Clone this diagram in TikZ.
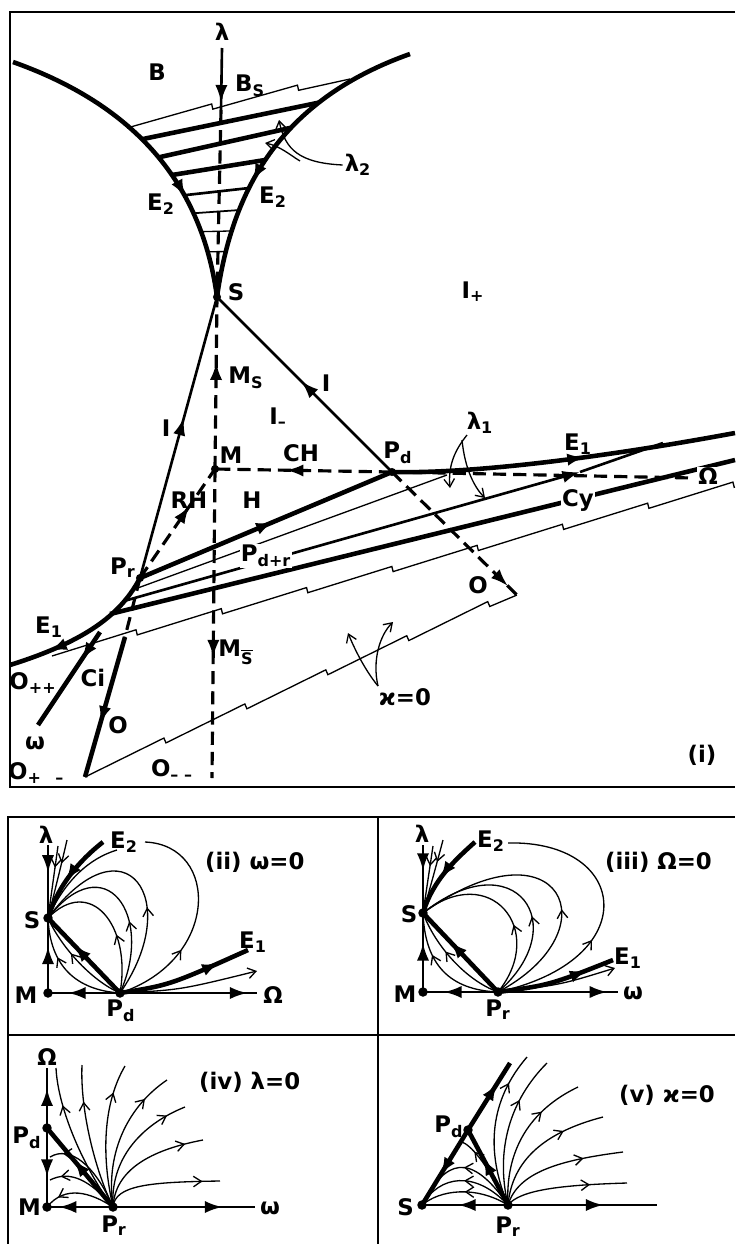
\documentclass[tikz,border=0pt]{standalone}
\usepackage{fontspec}
\setmainfont{DejaVu Sans}
\usetikzlibrary{arrows.meta,decorations.markings,decorations.pathmorphing}

\tikzset{
  midarrow/.style={postaction={decorate},decoration={markings,mark=at position #1 with {\arrow{Latex[length=10pt,width=7pt]}}}},
  midbarb/.style={postaction={decorate},decoration={markings,mark=at position #1 with {\arrow{Straight Barb[length=4.5pt,width=6pt]}}}},
  barbtip/.style={-{Straight Barb[length=4.5pt,width=6pt]}},
  thickline/.style={line width=2.6pt},
  medline/.style={line width=1.5pt},
  thinline/.style={line width=0.75pt},
  dashline/.style={line width=1.8pt,dash pattern=on 7.5pt off 4pt},
  frame/.style={line width=1.1pt},
  sawline/.style={line width=0.75pt,decorate,decoration={saw,segment length=50pt,amplitude=3pt}},
  lbl/.style={font=\fontsize{13}{15}\selectfont\bfseries,inner sep=1pt},
  wlbl/.style={lbl,fill=white,inner sep=0.5pt},
  bigdot/.style={radius=2.7pt},
}

\begin{document}
\begin{tikzpicture}[x=0.02cm,y=-0.02cm]
  \useasboundingbox (0,0) rectangle (735,1244);

  % ---------- (i) ----------
  \draw[frame] (735,12) -- (10,12) -- (10,787) -- (735,787); % (i) の枠
  \coordinate (S) at (217,297);
  \coordinate (M) at (215,469);
  \coordinate (Pd) at (392,472);
  \coordinate (Pr) at (140,578);
  \coordinate (lamtop) at (222,48);
  \coordinate (lamend) at (221,110);
  \coordinate (cl) at (13,62);
  \coordinate (cr) at (410,54);
  \coordinate (E1l) at (10,665);
  \coordinate (E1r) at (735,433);
  \coordinate (Ome) at (693,478);
  \coordinate (Oend) at (517,595);
  \coordinate (Msbar) at (212,778);
  \coordinate (Obend) at (125,637);
  \coordinate (Opm) at (85,777);
  \coordinate (wtop) at (100,632);
  \coordinate (wend) at (38,725);
  \coordinate (Cy) at (580,472);
  \coordinate (Cyend) at (663,443);
  \coordinate (Fa) at (135,589);
  \coordinate (Faend) at (447,475);
  \coordinate (Fb) at (124,601);
  \coordinate (Fc) at (110,614);
  \coordinate (Fcend) at (735,460);

  \begin{scope}
    \clip (cl) .. controls (120,100) and (200,170) .. (S) .. controls (232,190) and (280,100) .. (cr) -- cycle;
    \draw[thickline] (100,147.9) -- (360,94.1); % λ2 の面の線
    \draw[thickline] (100,170.5) -- (360,112.3);
    \draw[thickline] (100,186.6) -- (360,144.7);
    \draw[medline] (100,204.6) -- (360,175.7);
    \draw[line width=1pt] (100,219.8) -- (360,201.6);
    \draw[thinline] (100,234) -- (360,228);
    \draw[thinline] (100,253) -- (360,250);
  \end{scope}
  \draw[sawline] (127,128) -- (350,79); % λ2 の面の上端
  \draw[thickline,midarrow=0.68] (cl) .. controls (120,100) and (200,170) .. (S); % 左の E2
  \draw[thickline,midarrow=0.63] (cr) .. controls (280,100) and (232,190) .. (S); % 右の E2
  \draw[dashline] (lamend) -- (S); % λ 軸
  \draw[medline,midarrow=0.88] (lamtop) -- (lamend); % λ の矢印

  \node[lbl] (lam2) at (358,165) {λ\textsubscript{2}};
  \coordinate (lam2fork) at (300,161);
  \draw[thinline,barbtip] (lam2.west) .. controls (300,163) and (285,150) .. (279,120); % λ2 の引き出し線
  \draw[thinline,barbtip] (lam2fork) .. controls (290,155) and (280,146) .. (265,143);

  % 扇形の線
  \draw[thinline] (Fa) -- (Faend);
  \draw[medline,-{Latex[length=10pt,width=7pt]}] (Fb) -- (Cy); % Cy
  \draw[medline] (Cy) -- (Cyend);
  \draw[thickline] (Fc) -- (Fcend);
  \draw[sawline] (52,656) -- (735,487); % ϰ=0 の面の上端
  \draw[sawline] (Opm) -- (Oend); % ϰ=0 の面の下端

  \draw[medline,midarrow=0.57] (Pr) -- (S); % I
  \draw[medline,midarrow=0.52] (Pd) -- (S); % I
  \draw[thickline,midarrow=0.74] (Pr) .. controls (122,612) and (90,640) .. (E1l); % 左の E1
  \draw[thickline,midarrow=0.53] (Pr) -- (Pd); % H
  \draw[thickline,midarrow=0.56] (Pd) .. controls (470,474) and (600,458) .. (E1r); % 右の E1
  \draw[dashline,midarrow=0.62] (M) -- (S); % M_S
  \draw[dashline,midarrow=0.61] (M) -- (Msbar); % M_Sbar
  \draw[dashline,midarrow=0.6] (Pd) -- (M); % CH
  \draw[dashline,midarrow=0.66] (Pr) -- (M); % RH
  \draw[dashline] (Pd) -- (Ome); % Ω 軸
  \draw[dashline,midarrow=0.93] (Pd) -- (Oend); % O
  \draw[dashline] (Pr) -- (Obend);
  \draw[thickline,midarrow=0.62] (Obend) -- (Opm); % O
  \draw[thickline,midarrow=0.3] (wtop) -- (wend); % Ci

  \coordinate (lam1a) at (467,435);
  \coordinate (lam1b) at (462,440);
  \draw[thinline,barbtip] (lam1a) .. controls (455,450) and (448,465) .. (450,488); % λ1 の引き出し線
  \draw[thinline,barbtip] (lam1b) .. controls (465,470) and (475,488) .. (485,498);
  \coordinate (kap) at (378,686);
  \draw[thinline,barbtip] (kap) .. controls (365,670) and (355,650) .. (348,633); % ϰ=0 の引き出し線
  \draw[thinline,barbtip] (kap) .. controls (372,660) and (380,635) .. (393,622);

  \fill (S) circle[radius=2.3pt];
  \fill (M) circle[radius=2.3pt];
  \fill (Pd) circle[radius=2.3pt];
  \fill (Pr) circle[radius=2.3pt];

  \node[lbl] (laml) at (222,32) {λ};
  \node[lbl] (Blbl) at (157,72) {B};
  \node[lbl] (BSl) at (250,86) {B\textsubscript{S}};
  \node[lbl] (E2la) at (161,204) {E\textsubscript{2}};
  \node[lbl] (E2lb) at (273,197) {E\textsubscript{2}};
  \node[lbl] (Sl) at (236,292) {S};
  \node[lbl] (Ipl) at (473,292) {I\textsubscript{+}};
  \node[lbl] (MSl) at (246,378) {M\textsubscript{S}};
  \node[lbl] (Il1) at (166,428) {I};
  \node[lbl] (Il2) at (326,383) {I};
  \node[lbl] (Iml) at (278,418) {I\textsubscript{–}};
  \node[lbl] (Ml) at (231,455) {M};
  \node[lbl] (CHl) at (301,453) {CH};
  \node[lbl] (Pdl) at (398,453) {P\textsubscript{d}};
  \node[lbl] (lam1l) at (480,423) {λ\textsubscript{1}};
  \node[lbl] (E1lr) at (578,444) {E\textsubscript{1}};
  \node[lbl] (RHl) at (189,500) {RH};
  \node[lbl] (Hl) at (252,500) {H};
  \node[wlbl] (Cyl) at (578,500) {Cy};
  \node[wlbl] (Oml) at (708,476) {Ω};
  \node[wlbl] (Pdrl) at (266,556) {P\textsubscript{d+r}};
  \node[lbl] (Prl) at (123,568) {P\textsubscript{r}};
  \node[lbl] (Ol1) at (478,585) {O};
  \node[lbl] (E1ll) at (49,627) {E\textsubscript{1}};
  \node[lbl] (MSbl) at (236,652) {M\textsubscript{$\overline{\mbox{S}}$}};
  \node[lbl] (Oppl) at (33,683) {O\textsubscript{++}};
  \node[lbl] (Cil) at (93,678) {Ci};
  \node[lbl] (kapl) at (405,697) {ϰ=0};
  \node[lbl] (Ol2) at (118,725) {O};
  \node[lbl] (oml) at (35,743) {ω};
  \node[lbl,anchor=west] (Opml) at (6,773) {O\textsubscript{+\kern0.9em–}};
  \node[lbl] (Omml) at (172,770) {O\textsubscript{– –}};
  \node[lbl] (il) at (702,755) {(i)};

  % ---------- 下の枠 ----------
  \draw[frame] (8,1244) -- (8,817) -- (735,817);
  \draw[frame] (378,817) -- (378,1244);
  \draw[frame] (8,1035) -- (735,1035);

  % ---------- (ii) ----------
  \coordinate (S2) at (48,918);
  \coordinate (M2) at (48,993);
  \coordinate (Pd2) at (120,993);
  \coordinate (lamtop2) at (48,845);
  \coordinate (Om2) at (257,993);
  \coordinate (E2end2) at (103,842);
  \coordinate (E1end2) at (248,950);
  \coordinate (tr2) at (257,971);
  \coordinate (loop2) at (145,842);
  \draw[thinline,midbarb=0.4] (Pd2) .. controls (132,925) and (90,875) .. (S2); % 閉じた軌道
  \draw[thinline,midbarb=0.4] (Pd2) .. controls (155,915) and (105,845) .. (S2);
  \draw[thinline,midbarb=0.4] (Pd2) .. controls (185,900) and (125,815) .. (S2);
  \draw[thinline,midbarb=0.35] (Pd2) .. controls (220,960) and (220,845) .. (loop2);
  \draw[thinline,midbarb=0.65] (Pd2) .. controls (75,990) and (50,965) .. (S2);
  \draw[thinline,midbarb=0.6] (Pd2) .. controls (90,980) and (60,945) .. (S2);
  \draw[thinline,midbarb=0.3] (58,846) -- (S2);
  \draw[thinline,midbarb=0.3] (67,840) .. controls (60,870) .. (S2);
  \draw[thinline] (S2) .. controls (65,880) and (90,858) .. (117,850);
  \draw[thinline,barbtip] (Pd2) .. controls (180,990) .. (tr2);
  \draw[medline,midarrow=0.38] (lamtop2) -- (S2); % λ 軸
  \draw[medline,midarrow=0.62] (M2) -- (S2);
  \draw[medline,midarrow=0.72] (Pd2) -- (M2); % Ω 軸
  \draw[medline,midarrow=0.93] (Pd2) -- (Om2);
  \draw[thickline,midarrow=0.64] (Pd2) -- (S2);
  \draw[thickline,midarrow=0.57] (E2end2) .. controls (80,860) and (58,885) .. (S2); % E2
  \draw[thickline,midarrow=0.77] (Pd2) .. controls (170,985) .. (E1end2); % E1
  \fill (S2) circle[bigdot];
  \fill (M2) circle[bigdot];
  \fill (Pd2) circle[bigdot];
  \node[lbl] (lam2l) at (46,835) {λ};
  \node[lbl] (E2l2) at (124,842) {E\textsubscript{2}};
  \node[lbl,anchor=west] (cap2) at (203,862) {(ii) ω=0};
  \node[lbl] (S2l) at (32,920) {S};
  \node[lbl] (M2l) at (26,995) {M};
  \node[lbl] (Pd2l) at (121,1011) {P\textsubscript{d}};
  \node[lbl] (Om2l) at (273,995) {Ω};
  \node[lbl] (E1l2) at (253,942) {E\textsubscript{1}};

  % ---------- (iii) ----------
  \coordinate (S3) at (423,913);
  \coordinate (M3) at (423,992);
  \coordinate (Pr3) at (498,992);
  \coordinate (lamtop3) at (423,845);
  \coordinate (om3) at (618,992);
  \coordinate (E2end3) at (475,842);
  \coordinate (E1end3) at (613,960);
  \coordinate (tr3) at (615,968);
  \coordinate (loop3) at (508,843);
  \draw[thinline,midbarb=0.4] (Pr3) .. controls (548,930) and (490,860) .. (S3); % 閉じた軌道
  \draw[thinline,midbarb=0.4] (Pr3) .. controls (575,925) and (515,840) .. (S3);
  \draw[thinline,midbarb=0.4] (Pr3) .. controls (615,930) and (560,815) .. (S3);
  \draw[thinline,midbarb=0.4] (Pr3) .. controls (645,960) and (630,840) .. (loop3);
  \draw[thinline,midbarb=0.65] (Pr3) .. controls (450,990) and (425,965) .. (S3);
  \draw[thinline,midbarb=0.6] (Pr3) .. controls (465,980) and (435,945) .. (S3);
  \draw[thinline,midbarb=0.3] (433,846) -- (S3);
  \draw[thinline,midbarb=0.3] (443,840) .. controls (435,870) .. (S3);
  \draw[thinline,barbtip] (Pr3) .. controls (560,985) .. (tr3);
  \draw[medline,midarrow=0.38] (lamtop3) -- (S3); % λ 軸
  \draw[medline,midarrow=0.62] (M3) -- (S3);
  \draw[medline,midarrow=0.72] (Pr3) -- (M3); % ω 軸
  \draw[medline,midarrow=0.91] (Pr3) -- (om3);
  \draw[thickline,midarrow=0.64] (Pr3) -- (S3);
  \draw[thickline,midarrow=0.57] (E2end3) .. controls (455,860) and (433,880) .. (S3); % E2
  \draw[thickline,midarrow=0.77] (Pr3) .. controls (550,985) .. (E1end3); % E1
  \fill (S3) circle[bigdot];
  \fill (M3) circle[bigdot];
  \fill (Pr3) circle[bigdot];
  \node[lbl] (lam3l) at (422,834) {λ};
  \node[lbl] (E2l3) at (491,841) {E\textsubscript{2}};
  \node[lbl,anchor=west] (cap3) at (603,862) {(iii) Ω=0};
  \node[lbl] (S3l) at (409,914) {S};
  \node[lbl] (M3l) at (405,994) {M};
  \node[lbl] (Pr3l) at (498,1010) {P\textsubscript{r}};
  \node[lbl] (om3l) at (633,993) {ω};
  \node[lbl] (E1l3) at (628,958) {E\textsubscript{1}};

  % ---------- (iv) ----------
  \coordinate (M4) at (47,1207);
  \coordinate (Pd4) at (47,1128);
  \coordinate (Pr4) at (113,1207);
  \coordinate (Om4) at (47,1068);
  \coordinate (om4) at (255,1207);
  \draw[thinline,midbarb=0.75] (Pr4) .. controls (85,1170) and (58,1110) .. (56,1068); % P_r からの軌道
  \draw[thinline,midbarb=0.75] (Pr4) .. controls (95,1170) and (80,1110) .. (82,1065);
  \draw[thinline,midbarb=0.8] (Pr4) .. controls (100,1150) and (105,1100) .. (125,1066);
  \draw[thinline,midbarb=0.8] (Pr4) .. controls (105,1150) and (130,1105) .. (167,1080);
  \draw[thinline,midbarb=0.85] (Pr4) .. controls (110,1160) and (140,1125) .. (185,1107);
  \draw[thinline,midbarb=0.85] (Pr4) .. controls (115,1170) and (150,1150) .. (203,1140);
  \draw[thinline,midbarb=0.85] (Pr4) .. controls (115,1185) and (150,1182) .. (220,1181);
  \draw[thinline,midbarb=0.85] (Pr4) .. controls (95,1165) and (70,1145) .. (50,1157);
  \draw[thinline,midbarb=0.85] (Pr4) .. controls (90,1180) and (70,1170) .. (50,1180);
  \draw[thinline,midbarb=0.8] (Pr4) .. controls (90,1192) and (65,1185) .. (M4);
  \draw[medline,midarrow=0.66] (Pd4) -- (Om4); % Ω 軸
  \draw[medline,midarrow=0.62] (Pd4) -- (M4);
  \draw[medline,midarrow=0.82] (Pr4) -- (M4); % ω 軸
  \draw[medline,midarrow=0.77] (Pr4) -- (om4);
  \draw[thickline,midarrow=0.6] (Pr4) -- (Pd4);
  \fill (M4) circle[bigdot];
  \fill (Pd4) circle[bigdot];
  \fill (Pr4) circle[bigdot];
  \node[lbl] (Om4l) at (47,1057) {Ω};
  \node[lbl] (Pd4l) at (27,1138) {P\textsubscript{d}};
  \node[lbl,anchor=east] (M4l) at (43,1207) {M};
  \node[lbl] (Pr4l) at (114,1226) {P\textsubscript{r}};
  \node[lbl] (om4l) at (270,1208) {ω};
  \node[lbl,anchor=west] (cap4) at (197,1082) {(iv) λ=0};

  % ---------- (v) ----------
  \coordinate (S5) at (422,1205);
  \coordinate (Pr5) at (508,1205);
  \coordinate (Pd5) at (468,1130);
  \coordinate (top5) at (510,1063);
  \coordinate (ax5) at (657,1205);
  \coordinate (nearPd5) at (462,1142);
  \draw[thinline,midbarb=0.8] (Pr5) .. controls (485,1150) and (490,1100) .. (527,1057); % P_r からの軌道
  \draw[thinline,midbarb=0.7] (Pr5) .. controls (495,1150) and (510,1100) .. (547,1063);
  \draw[thinline,midbarb=0.7] (Pr5) .. controls (505,1150) and (530,1110) .. (578,1087);
  \draw[thinline,midbarb=0.7] (Pr5) .. controls (512,1160) and (545,1132) .. (603,1117);
  \draw[thinline,midbarb=0.7] (Pr5) .. controls (518,1172) and (560,1160) .. (623,1152);
  \draw[thinline,midbarb=0.7] (Pr5) .. controls (520,1190) and (560,1185) .. (627,1183);
  \draw[thinline,midbarb=0.5] (Pr5) .. controls (470,1150) and (445,1160) .. (S5);
  \draw[thinline,midbarb=0.5] (Pr5) .. controls (475,1170) and (440,1175) .. (S5);
  \draw[thinline,midbarb=0.5] (Pr5) .. controls (475,1185) and (440,1190) .. (S5);
  \draw[thinline,midbarb=0.8] (Pr5) .. controls (485,1160) and (470,1145) .. (nearPd5);
  \draw[thickline,midarrow=0.7] (Pd5) -- (top5);
  \draw[thickline,midarrow=0.6] (Pd5) -- (S5);
  \draw[thickline,midarrow=0.63] (Pr5) -- (Pd5);
  \draw[medline,midarrow=0.58] (Pr5) -- (S5);
  \draw[medline,midarrow=0.64] (Pr5) -- (ax5);
  \fill (S5) circle[bigdot];
  \fill (Pd5) circle[bigdot];
  \fill (Pr5) circle[bigdot];
  \node[lbl,anchor=east] (S5l) at (416,1207) {S};
  \node[lbl] (Pd5l) at (449,1127) {P\textsubscript{d}};
  \node[lbl] (Pr5l) at (508,1227) {P\textsubscript{r}};
  \node[lbl,anchor=west] (cap5) at (617,1095) {(v) ϰ=0};
\end{tikzpicture}
\end{document}
